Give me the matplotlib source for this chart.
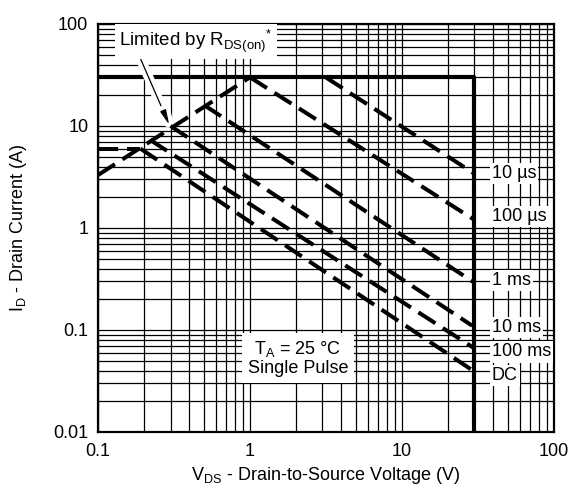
import numpy as np
import matplotlib
matplotlib.use("Agg")
from matplotlib import pyplot as plt
from matplotlib import patheffects as pe
from matplotlib.ticker import FixedLocator, LogLocator, NullFormatter, FuncFormatter

plt.rcParams["font.family"] = ["Liberation Sans", "DejaVu Sans"]
plt.rcParams["mathtext.fontset"] = "custom"
plt.rcParams["mathtext.rm"] = "Liberation Sans"

# safe operating area
limit_v = [0.1, 30, 30]
limit_i = [30, 30, 0.01]

rds_v = [0.1, 1.0]
rds_i = [3.3, 30]
flat_v = [0.1, 0.19]
flat_i = [6.0, 6.0]

pulse_names = ["10 µs", "100 µs", "1 ms", "10 ms", "100 ms", "DC"]
pulse_v = [[3.15, 30], [1.0, 30], [0.5, 30], [0.3, 29], [0.22, 30], [0.19, 30]]
pulse_i = [[30, 3.4], [30, 1.2], [16, 0.29], [10, 0.11], [7.3, 0.066], [6.0, 0.039]]
label_i = [3.44, 1.29, 0.304, 0.106, 0.061, 0.036]

x_ticks = [0.1, 1, 10, 100]
y_ticks = [0.01, 0.1, 1, 10, 100]

FS = 13


def plain(v, pos):
    return f"{v:g}"


fig = plt.figure(figsize=(5.74, 4.92), dpi=100)
ax = fig.add_axes([0.1707, 0.1220, 0.7944, 0.8293])
ax.set_xscale("log")
ax.set_yscale("log")
ax.set_xlim(0.1, 100)
ax.set_ylim(0.01, 100)

ax.xaxis.set_major_locator(FixedLocator(x_ticks))
ax.yaxis.set_major_locator(FixedLocator(y_ticks))
ax.xaxis.set_minor_locator(LogLocator(base=10, subs=np.arange(2, 10)))
ax.yaxis.set_minor_locator(LogLocator(base=10, subs=np.arange(2, 10)))
ax.xaxis.set_major_formatter(FuncFormatter(plain))
ax.yaxis.set_major_formatter(FuncFormatter(plain))
ax.xaxis.set_minor_formatter(NullFormatter())
ax.yaxis.set_minor_formatter(NullFormatter())
ax.tick_params(which="both", length=0, labelsize=FS)
ax.tick_params(axis="x", pad=8)
ax.tick_params(axis="y", pad=7)

ax.grid(True, which="both", color="black", linewidth=0.9)
ax.set_axisbelow(True)
for s in ax.spines.values():
    s.set_linewidth(1.6)

ax.plot(limit_v, limit_i, color="black", linewidth=3.0, solid_capstyle="butt", zorder=2)

dash = (0, (5.0, 2.2))
ax.plot(rds_v, rds_i, color="black", linewidth=2.9, linestyle=dash, zorder=4)
ax.plot(flat_v, flat_i, color="black", linewidth=2.9, linestyle=dash, zorder=4)
for v, i in zip(pulse_v, pulse_i):
    ax.plot(v, i, color="black", linewidth=2.9, linestyle=dash, zorder=4)

for name, yi in zip(pulse_names, label_i):
    ax.text(39, yi, name, fontsize=FS, ha="left", va="center", zorder=5,
            bbox=dict(facecolor="white", edgecolor="none", pad=1.5))

ax.annotate("", xy=(0.295, 10.2), xytext=(0.19, 46),
            arrowprops=dict(arrowstyle="-|>,head_length=0.9,head_width=0.18",
                            color="black", linewidth=0.9, shrinkA=0, shrinkB=0,
                            path_effects=[pe.withStroke(linewidth=7, foreground="white")]),
            zorder=3)
ax.text(0.44, 67, r"Limited by R$_{\mathrm{DS(on)}}$$^{*}$", fontsize=FS + 0.5,
        ha="center", va="center", zorder=5,
        bbox=dict(facecolor="white", edgecolor="none", pad=3))

ax.text(2.07, 0.053, "T$_\\mathrm{A}$ = 25 °C\nSingle Pulse", fontsize=FS,
        ha="center", va="center", linespacing=1.05, zorder=5,
        bbox=dict(facecolor="white", edgecolor="none", pad=4))

ax.set_xlabel(r"V$_{\mathrm{DS}}$ - Drain-to-Source Voltage (V)", fontsize=FS)
ax.set_ylabel(r"I$_{\mathrm{D}}$ - Drain Current (A)", fontsize=FS)
ax.xaxis.set_label_coords(0.5, -0.081)
ax.yaxis.set_label_coords(-0.151, 0.5)

fig.savefig("out.png", dpi=100, facecolor="white")
